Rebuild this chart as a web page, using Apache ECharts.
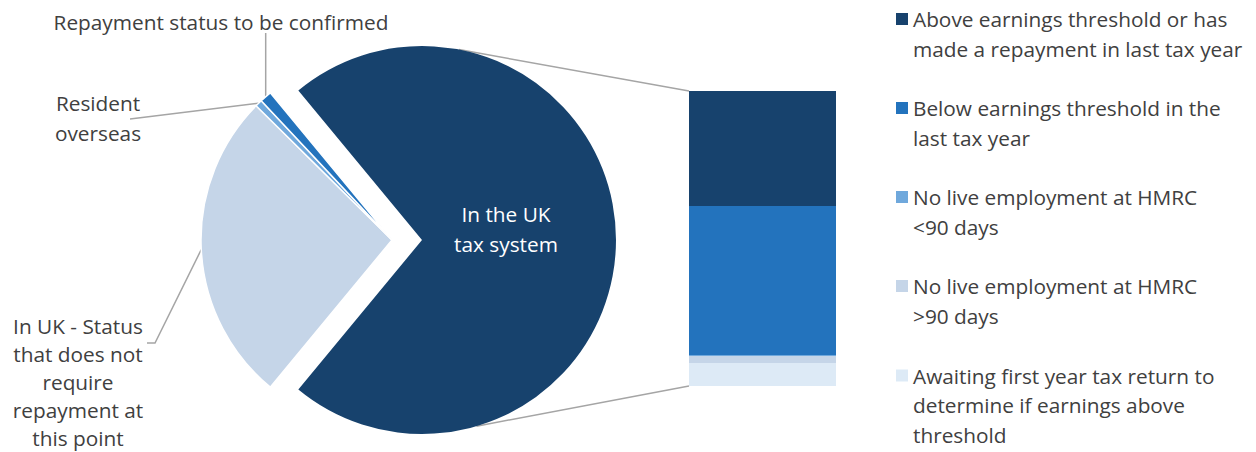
<!DOCTYPE html>
<html>
<head>
<meta charset="utf-8">
<script src="https://cdn.jsdelivr.net/npm/echarts@6/dist/echarts.min.js"></script>
<style>
html,body{margin:0;padding:0;background:#fff;}
#chart{width:1256px;height:452px;}
</style>
</head>
<body>
<div id="chart"></div>
<script>
// ---------------- DATA ----------------
const pieNames = [
  'In the UK tax system',
  'In UK - Status that does not require repayment at this point',
  'Resident overseas',
  'Repayment status to be confirmed'
];
const pieLabels = [
  'In the UK\ntax system',
  'In UK - Status\nthat does not\nrequire\nrepayment at\nthis point',
  'Resident\noverseas',
  'Repayment status to be confirmed'
];
const pieValues = [72.0, 26.4, 0.6, 1.0];

const barNames = [
  'Above earnings threshold or has made a repayment in last tax year',
  'Below earnings threshold in the last tax year',
  'No live employment at HMRC <90 days',
  'No live employment at HMRC >90 days',
  'Awaiting first year tax return to determine if earnings above threshold'
];
const legendLabels = [
  'Above earnings threshold or has\nmade a repayment in last tax year',
  'Below earnings threshold in the\nlast tax year',
  'No live employment at HMRC\n<90 days',
  'No live employment at HMRC\n>90 days',
  'Awaiting first year tax return to\ndetermine if earnings above\nthreshold'
];
const barValues = [39.0, 50.5, 0.3, 2.4, 7.8];

// ---------------- STYLE ----------------
const FONT = '"Open Sans", sans-serif';
const FS = 20.8;
const LH = 29.5;
const TEXT = '#404040';
const LINE = '#A5A5A5';
const pieColors = ['#17426D', '#C5D5E8', '#6FA8DC', '#2373BD'];
const barColors = ['#17426D', '#2373BD', '#6FA8DC', '#C5D5E8', '#DDEAF6'];

const darkCenter = [422, 240], darkR = 194;
const smallCenter = [392, 240], smallR = 191;
const grid = {left: 689, top: 91, width: 147, height: 295};
const legendLeft = 896;
const legendIconY = [19, 108, 197, 286, 375.5];
const connAngles = [79, -73.7]; // where connector lines leave the pie (deg)

// label placement for outside pie labels (layout only)
const pieLabelPos = {
  1: {x: 78, y: 382, lh: 28, tail: [[155, 343], [147, 343]]},
  2: {x: 98, y: 118, lh: LH, tail: [[130, 119]]},
  3: {x: 221, y: 22, lh: LH, vertical: 33}
};

const sumPie = pieValues.reduce((a, b) => a + b, 0);
const startAngle = pieValues[0] / sumPie * 180;
const sumBar = barValues.reduce((a, b) => a + b, 0);

const hidden = {
  itemStyle: {color: 'rgba(0,0,0,0)', borderWidth: 0},
  label: {show: false},
  labelLine: {show: false},
  emphasis: {disabled: true}
};

const darkData = pieValues.map((v, i) => i === 0
  ? {value: v, name: pieNames[i], itemStyle: {color: pieColors[i]}}
  : Object.assign({value: v, name: pieNames[i]}, hidden));

const smallData = pieValues.map((v, i) => i !== 0
  ? {value: v, name: pieNames[i], itemStyle: {color: pieColors[i]},
     label: {lineHeight: pieLabelPos[i].lh}}
  : Object.assign({value: v, name: pieNames[i]}, hidden));

function midPoint(i) {
  let acc = 0;
  for (let k = 0; k < i; k++) acc += pieValues[k];
  const mid = startAngle - (acc + pieValues[i] / 2) / sumPie * 360;
  const a = mid * Math.PI / 180;
  return [smallCenter[0] + smallR * Math.cos(a), smallCenter[1] - smallR * Math.sin(a)];
}

const chart = echarts.init(document.getElementById('chart'), null, {renderer: 'svg'});

const option = {
  animation: false,
  backgroundColor: '#fff',
  textStyle: {fontFamily: FONT},
  legend: barNames.map((name, i) => {
    const n = legendLabels[i].split('\n').length;
    const H = (2 * n - 1) * LH;
    // leading blank lines keep the marker level with the first text line
    const txt = '\n'.repeat(n - 1) + legendLabels[i];
    return {
      data: [name],
      orient: 'vertical',
      left: legendLeft,
      top: legendIconY[i] - H / 2,
      padding: 0,
      itemWidth: 12,
      itemHeight: 12,
      icon: 'rect',
      selectedMode: false,
      formatter: () => txt,
      textStyle: {fontFamily: FONT, fontSize: FS, lineHeight: LH, color: TEXT}
    };
  }),
  grid: Object.assign({}, grid, {containLabel: false}),
  xAxis: {type: 'category', data: ['In the UK tax system'], show: false},
  yAxis: {type: 'value', min: 0, max: sumBar, inverse: true, show: false},
  series: [
    {
      type: 'pie',
      name: 'uk',
      center: darkCenter,
      radius: darkR,
      startAngle: startAngle,
      clockwise: true,
      avoidLabelOverlap: false,
      data: darkData,
      label: {
        show: true, position: 'inside', color: '#fff',
        fontFamily: FONT, fontSize: FS, lineHeight: LH, align: 'center',
        formatter: (p) => pieLabels[p.dataIndex]
      },
      labelLine: {show: false},
      labelLayout: (p) => p.dataIndex === 0 ? {dx: -16, dy: -11} : {},
      emphasis: {disabled: true}
    },
    {
      type: 'pie',
      name: 'other',
      center: smallCenter,
      radius: smallR,
      startAngle: startAngle,
      clockwise: true,
      avoidLabelOverlap: false,
      data: smallData,
      itemStyle: {borderColor: '#fff', borderWidth: 1.5},
      label: {
        show: true, position: 'outside', color: TEXT,
        fontFamily: FONT, fontSize: FS, lineHeight: LH, align: 'center',
        formatter: (p) => pieLabels[p.dataIndex]
      },
      labelLine: {show: true, lineStyle: {color: LINE, width: 1.5}, length: 10, length2: 10},
      labelLayout: (p) => {
        const spec = pieLabelPos[p.dataIndex];
        if (!spec) return {};
        const start = midPoint(p.dataIndex);
        let pts;
        if (spec.vertical != null) pts = [start, [start[0], spec.vertical]];
        else pts = [start].concat(spec.tail);
        return {x: spec.x, y: spec.y, align: 'center', verticalAlign: 'middle', labelLinePoints: pts};
      },
      emphasis: {disabled: true}
    }
  ].concat(barNames.map((name, i) => ({
    type: 'bar',
    name: name,
    stack: 'total',
    barWidth: '100%',
    data: [barValues[i]],
    itemStyle: {color: barColors[i]},
    emphasis: {disabled: true}
  })))
};

// connector lines from the pie to the bar
const connGraphics = connAngles.map((deg, k) => {
  const a = deg * Math.PI / 180;
  const p0 = [darkCenter[0] + darkR * Math.cos(a), darkCenter[1] - darkR * Math.sin(a)];
  const p1 = [grid.left, k === 0 ? grid.top : grid.top + grid.height];
  return {
    type: 'polyline',
    shape: {points: [p0, p1]},
    style: {stroke: LINE, lineWidth: 1.5, fill: null},
    silent: true,
    z: 1
  };
});
option.graphic = connGraphics;

chart.setOption(option);
</script>
</body>
</html>
